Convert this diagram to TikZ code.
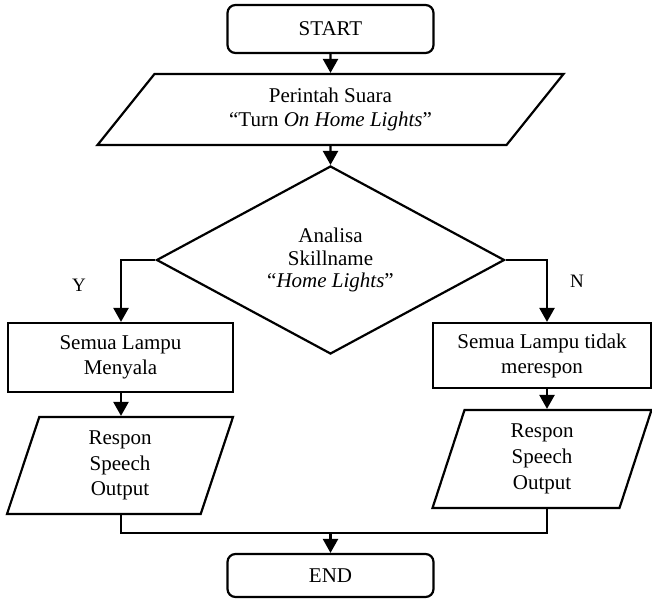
\documentclass[tikz,border=0pt]{standalone}
\usepackage{fontspec}
\setmainfont{Liberation Serif}
\usetikzlibrary{shapes.geometric,arrows.meta}
\begin{document}
\begin{tikzpicture}[x=1pt,y=-1pt,
  every node/.style={font=\fontsize{21}{25}\selectfont, align=center, inner sep=0pt},
  flowline/.style={line width=2.4pt},
  flowarrow/.style={flowline, -{Triangle[width=15pt,length=14pt]}},
  terminal/.style={draw, line width=2.2pt, rounded corners=8pt, minimum width=206pt},
  process/.style={draw, line width=2.2pt, rectangle},
  io/.style={draw, line width=2.2pt, trapezium, trapezium stretches body},
  decision/.style={draw, line width=2.2pt, diamond, aspect=1.85,
    minimum width=348pt, minimum height=188pt},
  branchlabel/.style={font=\fontsize{19}{22}\selectfont}]

\useasboundingbox (0,0) rectangle (652,599);

% columns of the two branches and the joining point above END
\coordinate (ycol) at (121,0);
\coordinate (ncol) at (547,0);
\coordinate (merge) at (330.5,533);

% main column
\node[terminal, minimum height=48pt] (start) at (330.5,29) {START};
\node[io, trapezium left angle=37.07, trapezium right angle=142.93,
  minimum width=466pt, minimum height=71pt,
  font=\fontsize{21}{24}\selectfont] (cmd) at (330.5,109.5)
  {Perintah Suara\\“Turn \textit{On Home Lights}”};
\node[decision, font=\fontsize{21}{22.5}\selectfont] (dec) at (330.5,260)
  {Analisa\\Skillname\\“\textit{Home Lights}”};

% Y branch
\node[process, minimum width=225pt, minimum height=69pt] (yes) at (120.5,357.5)
  {Semua Lampu\\Menyala};
\node[io, trapezium left angle=65.1, trapezium right angle=114.9,
  minimum width=226pt, minimum height=97pt,
  font=\fontsize{21}{25.7}\selectfont] (outy) at (120,465.5)
  {Respon\\Speech\\Output};

% N branch
\node[process, minimum width=218pt, minimum height=65pt] (no) at (542,355.5)
  {Semua Lampu tidak\\merespon};
\node[io, trapezium left angle=65.3, trapezium right angle=114.7,
  minimum width=219pt, minimum height=98pt,
  font=\fontsize{21}{25.7}\selectfont] (outn) at (542,459)
  {Respon\\Speech\\Output};

\node[terminal, minimum height=43pt] (end) at (330.5,575.5) {END};

% branch labels
\node[branchlabel] (ylab) at (79,285) {Y};
\node[branchlabel] (nlab) at (577,281) {N};

% connectors
\draw[flowarrow] (start) -- (cmd);
\draw[flowarrow] (cmd) -- (dec);
\draw[flowarrow] (dec.west) -| (yes.north -| ycol);
\draw[flowarrow] (dec.east) -| (no.north -| ncol);
\draw[flowarrow] (yes.south -| ycol) -- (outy.north -| ycol);
\draw[flowarrow] (no.south -| ncol) -- (outn.north -| ncol);
\draw[flowline] (outy.south -| ycol) |- (merge);
\draw[flowline] (outn.south -| ncol) |- (merge);
\draw[flowarrow] (merge) -- (end);
\end{tikzpicture}
\end{document}
